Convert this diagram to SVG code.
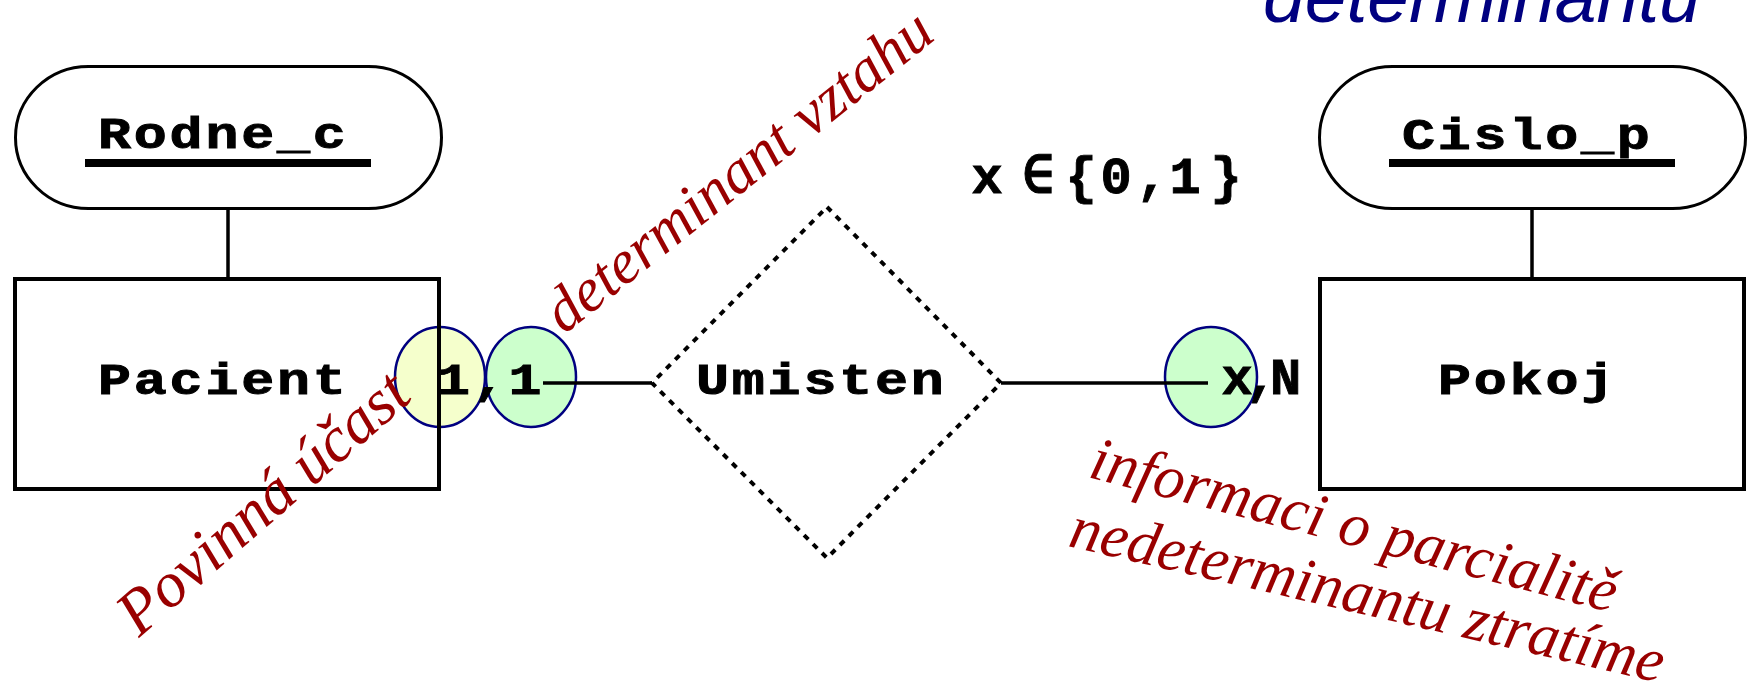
<svg xmlns="http://www.w3.org/2000/svg" width="1748" height="694" viewBox="0 0 1748 694">
  <style>
    .pix { font-family: "Liberation Mono", "DejaVu Sans Mono", monospace; font-weight: bold; fill: #000; stroke: #000; stroke-width: 0.9; }
    .lbl { font-size: 44px; letter-spacing: 2.24px; }
    .big { font-size: 52px; }
    .note { font-family: "Liberation Serif", "Times New Roman", serif; font-style: italic; font-size: 64px; fill: #990000; }
    .ent { fill: none; stroke: #000; stroke-width: 4; }
    .attr { fill: #fff; stroke: #000; stroke-width: 3; }
    .line { stroke: #000; stroke-width: 3.5; fill: none; }
    .card { stroke: #000080; stroke-width: 2.5; }
  </style>

  <rect width="1748" height="694" fill="#fff"/>

  <!-- cardinality markers -->
  <g id="cardinality">
    <ellipse cx="440" cy="377" rx="45" ry="50" fill="#f5ffcc" class="card"/>
    <ellipse cx="531" cy="377" rx="45" ry="50" fill="#ccffcc" class="card"/>
    <ellipse cx="1211" cy="377" rx="46" ry="50" fill="#ccffcc" class="card"/>
  </g>

  <!-- connectors -->
  <g id="connectors">
    <line class="line" x1="228" y1="209" x2="228" y2="279" stroke-width="3"/>
    <line class="line" x1="1532" y1="209" x2="1532" y2="279" stroke-width="3"/>
    <line class="line" x1="543" y1="383" x2="652" y2="383"/>
    <line class="line" x1="1001" y1="383" x2="1208" y2="383"/>
  </g>

  <!-- entity Pacient -->
  <g id="pacient">
    <rect class="ent" x="15" y="279" width="424" height="210"/>
    <text class="pix lbl" transform="translate(98 394) scale(1.25 1)">Pacient</text>
  </g>

  <!-- entity Pokoj -->
  <g id="pokoj">
    <rect class="ent" x="1320" y="279" width="424" height="210"/>
    <text class="pix lbl" transform="translate(1438 394) scale(1.25 1)">Pokoj</text>
  </g>

  <!-- key attribute Rodne_c -->
  <g id="rodne_c">
    <rect class="attr" x="15.5" y="66.5" width="426" height="142" rx="73" ry="71"/>
    <text class="pix lbl" transform="translate(98 148) scale(1.25 1)">Rodne_c</text>
    <rect x="85" y="159" width="286" height="8" fill="#000"/>
  </g>

  <!-- key attribute Cislo_p -->
  <g id="cislo_p">
    <rect class="attr" x="1319.5" y="66.5" width="426" height="142" rx="73" ry="71"/>
    <text class="pix lbl" transform="translate(1402 149) scale(1.25 1)">Cislo_p</text>
    <rect x="1389" y="159" width="286" height="8" fill="#000"/>
  </g>

  <!-- relationship Umisten -->
  <g id="umisten">
    <polygon points="827,207 1001,383 827,558 652,383" fill="none" stroke="#000" stroke-width="4" stroke-dasharray="6 6.7"/>
    <text class="pix lbl" transform="translate(696 394) scale(1.25 1)">Umisten</text>
  </g>

  <!-- cardinality texts -->
  <g id="card-texts">
    <text class="pix lbl" transform="translate(437 394) scale(1.25 1)">1,1</text>
    <text class="pix big" x="1221.5" y="394" letter-spacing="-7">x,N</text>
    <text class="pix big" text-anchor="middle" x="987 1038 1081 1116 1152 1185 1226" y="193">x∈{0,1}</text>
  </g>

  <!-- annotations -->
  <g id="notes">
    <text class="note" transform="translate(139 638) rotate(-41)">Povinná účast</text>
    <text class="note" transform="translate(564 335) rotate(-38.5)" style="font-size:62px">determinant vztahu</text>
    <text class="note" transform="translate(1087 477) rotate(14.5)" style="font-size:62px">informaci o parcialitě</text>
    <text class="note" transform="translate(1067 546) rotate(13)" style="font-size:62px">nedeterminantu ztratíme</text>
    <text x="1263" y="22" font-family="Liberation Sans, Arial, sans-serif" font-style="italic" font-size="75" fill="#000080">determinantu</text>
  </g>
</svg>
